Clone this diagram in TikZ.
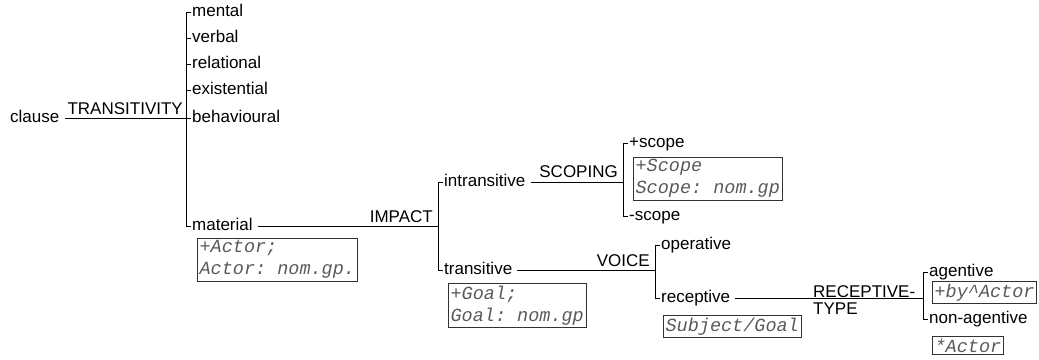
\documentclass[tikz,border=0pt]{standalone}
\usepackage{fontspec}
\setmainfont{Liberation Sans}
\setmonofont{Liberation Mono}
\definecolor{realgray}{RGB}{90,90,90}
\definecolor{boxgray}{RGB}{50,50,50}

\tikzset{
  opt/.style={anchor=west, inner sep=1pt, text height=8.5pt, text depth=0pt},
  sysname/.style={anchor=base east, inner sep=0pt},
  realbox/.style={draw=boxgray, line width=0.8pt, anchor=north west, align=left,
    inner sep=2.2pt, text=realgray, font=\fontsize{18.5}{22}\selectfont\ttfamily\itshape},
  net/.style={line width=0.8pt}
}

\begin{document}
\begin{tikzpicture}[x=1pt, y=-1pt, font=\fontsize{17}{17.5}\selectfont]
\useasboundingbox (0,0) rectangle (1039,359);

% TRANSITIVITY system
\node[opt] (clause) at (9,118) {clause};
\coordinate (transB) at (186,118);
\node[opt] (mental) at (191,12) {mental};
\node[opt] (verbal) at (191,38) {verbal};
\node[opt] (relational) at (191,64) {relational};
\node[opt] (existential) at (191,90) {existential};
\node[opt] (behavioural) at (191,118) {behavioural};
\node[opt] (material) at (191,226) {material};
\node[sysname] (transname) at (183,114) {TRANSITIVITY};
\draw[net, shorten <=4pt] (clause.east) -- (transB);
\draw[net] (mental.west) -- (transB |- mental) -- (transB |- material) -- (material.west);
\foreach \o in {verbal,relational,existential,behavioural}
  \draw[net] (transB |- \o) -- (\o.west);
\node[realbox] (materialreal) at (197,238) {+Actor;\\Actor: nom.gp.};

% IMPACT system
\coordinate (impactB) at (438,226);
\node[opt] (intransitive) at (443,182) {intransitive};
\node[opt] (transitive) at (443,270) {transitive};
\node[sysname] (impactname) at (433,222) {IMPACT};
\draw[net, shorten <=4pt] (material.east) -- (impactB);
\draw[net] (intransitive.west) -- (impactB |- intransitive) -- (impactB |- transitive) -- (transitive.west);
\node[realbox] (transreal) at (448,283) {+Goal;\\Goal: nom.gp};

% SCOPING system
\coordinate (scopingB) at (623,182);
\node[opt] (plusscope) at (628,143) {+scope};
\node[opt] (minusscope) at (628,216) {-scope};
\node[sysname] (scopingname) at (618,177) {SCOPING};
\draw[net, shorten <=4pt] (intransitive.east) -- (scopingB);
\draw[net] (plusscope.west) -- (scopingB |- plusscope) -- (scopingB |- minusscope) -- (minusscope.west);
\node[realbox] (scopereal) at (633,157) {+Scope\\Scope: nom.gp};

% VOICE system
\coordinate (voiceB) at (655,270);
\node[opt] (operative) at (660,245) {operative};
\node[opt] (receptive) at (660,298) {receptive};
\node[sysname] (voicename) at (650,266) {VOICE};
\draw[net, shorten <=4pt] (transitive.east) -- (voiceB);
\draw[net] (operative.west) -- (voiceB |- operative) -- (voiceB |- receptive) -- (receptive.west);
\node[realbox] (receptivereal) at (663,315) {Subject/Goal};

% RECEPTIVE-TYPE system
\coordinate (rtypeB) at (923,298);
\node[opt] (agentive) at (928,272) {agentive};
\node[opt] (nonagentive) at (928,319) {non-agentive};
\node[anchor=base west, inner sep=0pt] (rtypename) at (813,297)
  {\begin{tabular}[t]{@{}l@{}}RECEPTIVE-\\TYPE\end{tabular}};
\draw[net, shorten <=4pt] (receptive.east) -- (rtypeB);
\draw[net] (agentive.west) -- (rtypeB |- agentive) -- (rtypeB |- nonagentive) -- (nonagentive.west);
\node[realbox] (agentivereal) at (932,281) {+by\textasciicircum Actor};
\node[realbox] (nonagentivereal) at (932,336) {*Actor};
\end{tikzpicture}
\end{document}
